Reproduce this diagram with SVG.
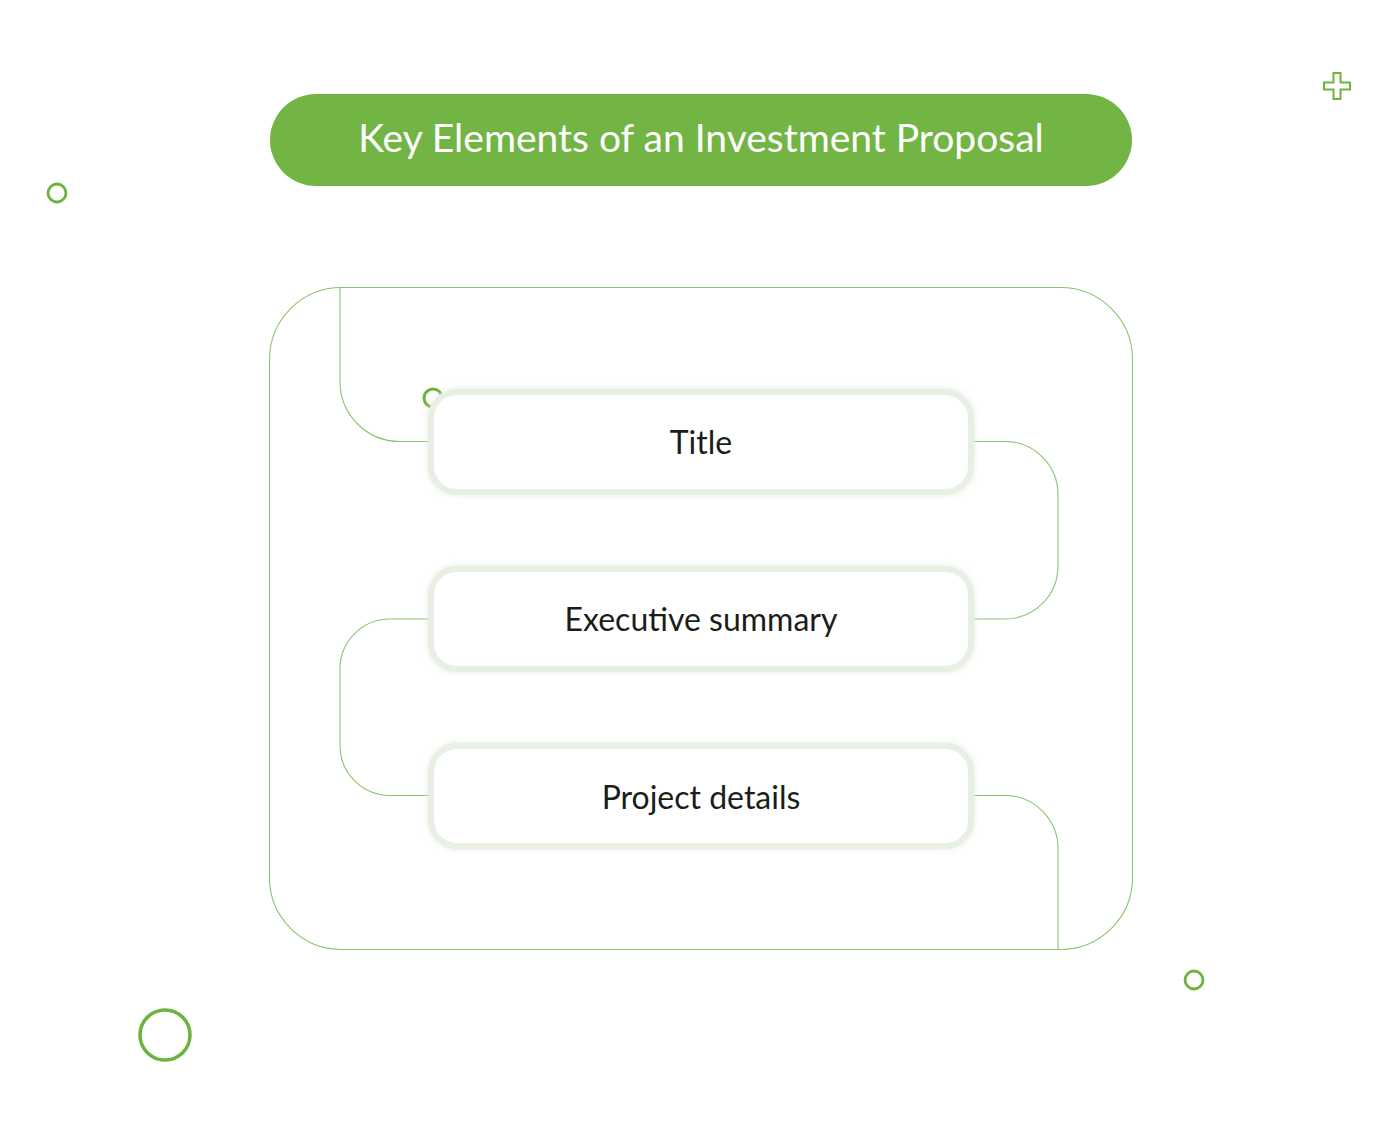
<svg xmlns="http://www.w3.org/2000/svg" width="1400" height="1143" viewBox="0 0 1400 1143">
<defs>
<style>
.line{fill:none;stroke:#8cc46c;stroke-width:1.1}
.deco{fill:none;stroke:#6cb33f}
.box{fill:#ffffff;stroke:#e8efe4;stroke-width:6}
.label{font-family:Lato,"Open Sans","Liberation Sans",sans-serif;font-size:32px;fill:#1a1d1a;text-anchor:middle}
</style>
<filter id="soft" x="-10%" y="-20%" width="120%" height="140%">
<feGaussianBlur in="SourceAlpha" stdDeviation="3" result="b"/>
<feFlood flood-color="#dfe8da" flood-opacity="0.8"/>
<feComposite in2="b" operator="in" result="s"/>
<feMerge><feMergeNode in="s"/><feMergeNode in="SourceGraphic"/></feMerge>
</filter>
</defs>
<rect width="1400" height="1143" fill="#ffffff"/>

<g id="decorations">
<circle class="deco" cx="57" cy="193" r="9" stroke-width="2.8"/>
<circle class="deco" cx="1194" cy="980" r="9" stroke-width="2.8"/>
<circle class="deco" cx="165" cy="1035" r="25" stroke-width="3.5"/>
<path class="deco" stroke-width="2" d="M1333.5 73 H1340.5 V82.5 H1350 V89.5 H1340.5 V99 H1333.5 V89.5 H1324 V82.5 H1333.5 Z"/>
</g>

<g id="header">
<rect x="270" y="94" width="862" height="92" rx="46" fill="#72b544"/>
<text x="701" y="152" font-family="Lato,'Open Sans','Liberation Sans',sans-serif" font-size="39" fill="#ffffff" text-anchor="middle">Key Elements of an Investment Proposal</text>
</g>

<g id="frame">
<rect class="line" x="269.5" y="287.5" width="863" height="662" rx="72"/>
</g>

<g id="connectors">
<path class="line" d="M340 287.5 V381 A60 60 0 0 0 400 441.5 H432"/>
<path class="line" d="M970 441.5 H1005 A53 53 0 0 1 1058 494.5 V566 A53 53 0 0 1 1005 619 H970"/>
<path class="line" d="M432 619 H390 A50 50 0 0 0 340 669 V745 A50 50 0 0 0 390 795.5 H432"/>
<path class="line" d="M970 795.5 H1005 A53 53 0 0 1 1058 848.5 V949.5"/>
</g>

<g id="node-title">
<circle class="deco" cx="433" cy="398" r="9" stroke-width="3"/>
<rect class="box" x="431" y="392" width="540" height="100" rx="26" filter="url(#soft)"/>
<text class="label" x="701" y="454">Title</text>
</g>

<g id="node-executive-summary">
<rect class="box" x="431" y="569" width="540" height="100" rx="26" filter="url(#soft)"/>
<text class="label" x="701" y="631">Executive summary</text>
</g>

<g id="node-project-details">
<rect class="box" x="431" y="746" width="540" height="100" rx="26" filter="url(#soft)"/>
<text class="label" x="701" y="809">Project details</text>
</g>
</svg>
